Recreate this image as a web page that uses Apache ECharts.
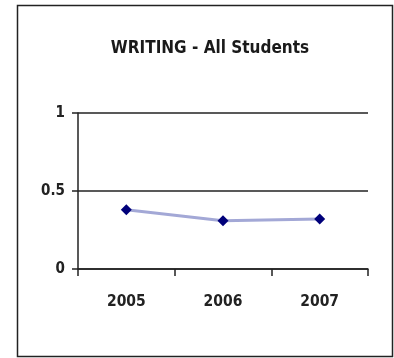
<!DOCTYPE html>
<html>
<head>
<meta charset="utf-8">
<script src="https://cdn.jsdelivr.net/npm/echarts@6/dist/echarts.min.js"></script>
<style>
  html, body { margin: 0; padding: 0; background: #fff; }
  #chart { width: 394px; height: 358px; }
</style>
</head>
<body>
<div id="chart"></div>
<script>
// Writing scores, all students, by year
const years = ['2005', '2006', '2007'];
const writingScores = [0.38, 0.31, 0.32];
const yTicks = [0, 0.5, 1];

const FONT = '"DejaVu Sans Condensed", "Liberation Sans Narrow", "Arial Narrow", "Liberation Sans", sans-serif';

const chart = echarts.init(document.getElementById('chart'), null, { renderer: 'canvas' });

chart.setOption({
  animation: false,
  backgroundColor: '#fff',
  graphic: [
    {
      type: 'rect',
      shape: { x: 17.5, y: 5.5, width: 375, height: 351 },
      style: { fill: 'none', stroke: '#222', lineWidth: 1.5 },
      z: 0
    }
  ],
  title: {
    text: 'WRITING - All Students',
    left: 205,
    top: 35,
    textAlign: 'center',
    textStyle: {
      fontFamily: FONT,
      fontSize: 17,
      fontWeight: 'bold',
      color: '#1a1a1a'
    }
  },
  grid: { left: 78, right: 26, top: 113, bottom: 89, containLabel: false },
  xAxis: {
    type: 'category',
    data: years,
    boundaryGap: true,
    axisLine: { show: true, lineStyle: { color: '#222', width: 1.5 } },
    axisTick: { show: true, length: 7, alignWithLabel: false, lineStyle: { color: '#222', width: 1.5 } },
    axisLabel: {
      margin: 25,
      fontFamily: FONT,
      fontSize: 15.5,
      fontWeight: 'bold',
      color: '#222'
    },
    splitLine: { show: false }
  },
  yAxis: {
    type: 'value',
    min: yTicks[0],
    max: yTicks[yTicks.length - 1],
    interval: yTicks[1] - yTicks[0],
    axisLine: { show: true, lineStyle: { color: '#222', width: 1.5 } },
    axisTick: { show: true, length: 6, lineStyle: { color: '#222', width: 1.5 } },
    axisLabel: {
      margin: 13,
      fontFamily: FONT,
      fontSize: 15,
      fontWeight: 'bold',
      color: '#222',
      formatter: v => String(v)
    },
    splitLine: { show: true, lineStyle: { color: '#222', width: 1.5 } }
  },
  series: [
    {
      type: 'line',
      data: writingScores,
      symbol: 'diamond',
      symbolSize: 11,
      lineStyle: { color: '#a3a8d6', width: 3 },
      itemStyle: { color: '#00007a' },
      z: 5
    }
  ]
});
</script>
</body>
</html>
